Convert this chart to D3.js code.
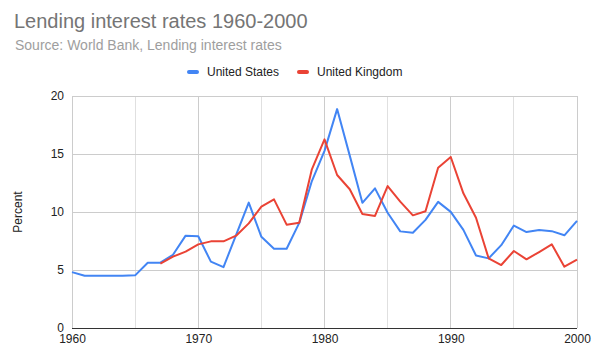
<!DOCTYPE html>
<html>
<head>
<meta charset="utf-8">
<script src="https://cdn.jsdelivr.net/npm/d3@7"></script>
<style>
  body { margin: 0; background: #fff; }
  svg { font-family: Arial, "Liberation Sans", sans-serif; }
</style>
</head>
<body>
<div class="chart"></div>
<script>
// Lending interest rates, World Bank
var years = d3.range(1960, 2001);

var usRates = [4.82, 4.50, 4.50, 4.50, 4.50, 4.54, 5.63, 5.63, 6.31, 7.96,
  7.91, 5.72, 5.25, 8.03, 10.81, 7.86, 6.84, 6.83, 9.06, 12.67,
  15.27, 18.87, 14.86, 10.79, 12.04, 9.93, 8.33, 8.21, 9.32, 10.87,
  10.01, 8.46, 6.25, 6.00, 7.14, 8.83, 8.27, 8.44, 8.35, 7.99, 9.23];

// UK series starts in 1967
var ukRates = [null, null, null, null, null, null, null, 5.55, 6.15, 6.58,
  7.21, 7.47, 7.47, 7.96, 9.02, 10.46, 11.09, 8.91, 9.08, 13.68,
  16.26, 13.19, 11.96, 9.83, 9.66, 12.24, 10.90, 9.71, 10.06, 13.82,
  14.74, 11.61, 9.51, 6.01, 5.43, 6.64, 5.92, 6.55, 7.21, 5.29, 5.89];

var yTicks = [0, 5, 10, 15, 20];
var xGrid = d3.range(1960, 2001, 5);
var xLabels = [1960, 1970, 1980, 1990, 2000];

var series = [
  { name: "United States", values: usRates, color: "#4285F4" },
  { name: "United Kingdom", values: ukRates, color: "#EA4335" }
];

var svgWidth = 595, svgHeight = 363;
var margin = { top: 96, right: 18, bottom: 35, left: 72 };
var width = svgWidth - margin.left - margin.right;
var height = svgHeight - margin.top - margin.bottom;

var svg = d3.select(".chart").append("svg")
  .attr("width", svgWidth)
  .attr("height", svgHeight);

svg.append("text")
  .attr("x", 14).attr("y", 28)
  .attr("font-size", "20px")
  .attr("fill", "#757575")
  .text("Lending interest rates 1960-2000");

svg.append("text")
  .attr("x", 15).attr("y", 50)
  .attr("font-size", "14px")
  .attr("fill", "#9e9e9e")
  .text("Source: World Bank, Lending interest rates");

// legend
var legend = svg.append("g");
var legendX = [187, 297];
series.forEach(function(s, i) {
  legend.append("rect")
    .attr("x", legendX[i]).attr("y", 70)
    .attr("width", 12).attr("height", 4)
    .attr("rx", 2)
    .attr("fill", s.color);
  legend.append("text")
    .attr("x", legendX[i] + 20).attr("y", 76)
    .attr("font-size", "12px")
    .attr("fill", "#222")
    .text(s.name);
});

var chartGroup = svg.append("g")
  .attr("transform", `translate(${margin.left}, ${margin.top})`);

var x = d3.scaleLinear().domain([1960, 2000]).range([0, width]);
var y = d3.scaleLinear().domain([0, 20]).range([height, 0]);

// gridlines
chartGroup.append("g")
  .selectAll("line")
  .data(xGrid)
  .enter()
  .append("line")
  .attr("x1", d => x(d)).attr("x2", d => x(d))
  .attr("y1", 0).attr("y2", height)
  .attr("stroke", d => d % 10 === 0 ? "#cccccc" : "#e0e0e0")
  .attr("stroke-width", 1)
  .attr("shape-rendering", "crispEdges");

chartGroup.append("g")
  .selectAll("line")
  .data(yTicks.slice(1))
  .enter()
  .append("line")
  .attr("x1", 0).attr("x2", width)
  .attr("y1", d => y(d)).attr("y2", d => y(d))
  .attr("stroke", "#cccccc")
  .attr("stroke-width", 1)
  .attr("shape-rendering", "crispEdges");

// y axis labels
var yAxis = d3.axisLeft(y).tickValues(yTicks).tickSize(0).tickPadding(8);
var yAxisG = chartGroup.append("g").call(yAxis);
yAxisG.select(".domain").remove();
yAxisG.selectAll("text")
  .attr("font-size", "12px")
  .attr("font-family", "Arial, 'Liberation Sans', sans-serif")
  .attr("fill", "#222");

// x axis labels
var xAxis = d3.axisBottom(x).tickValues(xLabels).tickFormat(d3.format("d")).tickSize(0).tickPadding(6);
var xAxisG = chartGroup.append("g")
  .attr("transform", `translate(0, ${height})`)
  .call(xAxis);
xAxisG.select(".domain").remove();
xAxisG.selectAll("text")
  .attr("font-size", "12px")
  .attr("font-family", "Arial, 'Liberation Sans', sans-serif")
  .attr("fill", "#222");

// baseline
chartGroup.append("line")
  .attr("x1", 0).attr("x2", width)
  .attr("y1", y(0)).attr("y2", y(0))
  .attr("stroke", "#333")
  .attr("stroke-width", 1)
  .attr("shape-rendering", "crispEdges");

chartGroup.append("text")
  .attr("transform", "rotate(-90)")
  .attr("x", -height / 2)
  .attr("y", -50)
  .attr("text-anchor", "middle")
  .attr("font-size", "12px")
  .attr("fill", "#222")
  .text("Percent");

// lines
var line = d3.line()
  .defined(d => d.v != null)
  .x(d => x(d.year))
  .y(d => y(d.v));

series.forEach(function(s) {
  var pts = years.map((yr, i) => ({ year: yr, v: s.values[i] }));
  chartGroup.append("path")
    .datum(pts)
    .attr("fill", "none")
    .attr("stroke", s.color)
    .attr("stroke-width", 2)
    .attr("stroke-linejoin", "round")
    .attr("d", line);
});
</script>
</body>
</html>
